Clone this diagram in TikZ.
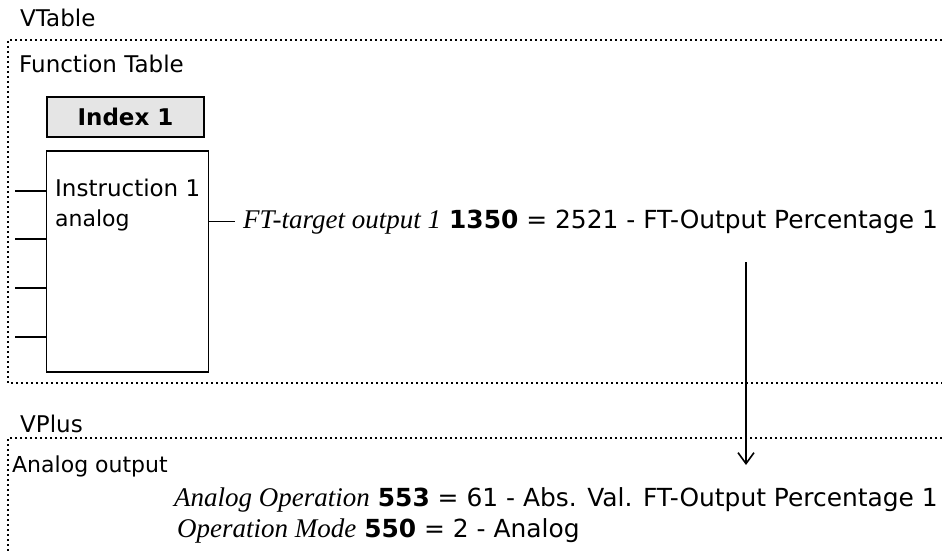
\documentclass[tikz,border=0pt]{standalone}
\usepackage{fontspec}
\setmainfont{DejaVu Sans}
\newfontfamily\itserif{Liberation Serif}
\usetikzlibrary{arrows.meta}

\tikzset{
  frame/.style={line width=2pt, dash pattern=on 2pt off 3pt},
  wire/.style={line width=1.6pt},
  txt/.style={anchor=base west, inner sep=0pt, font=\fontsize{23}{23}\selectfont},
  bigtxt/.style={txt, font=\fontsize{24.9}{24.9}\selectfont},
  smalltxt/.style={txt, font=\fontsize{22}{22}\selectfont},
  indexbox/.style={draw, line width=1.2pt, fill=gray!20, minimum width=157pt, minimum height=40pt,
    inner sep=0pt, font=\bfseries\fontsize{23}{23}\selectfont},
  instrbox/.style={draw, line width=1.6pt, minimum width=162pt, minimum height=221pt, inner sep=0pt}
}
\newcommand{\parname}[1]{{\itserif\itshape\fontsize{27}{27}\selectfont #1}}

\begin{document}
\begin{tikzpicture}[x=1pt,y=-1pt]
  \useasboundingbox (0,0) rectangle (942,551);

  % VTable frame
  \node[txt] (vtable) at (20,27) {VTable};
  \draw[frame] (942,40) -- (8,40) -- (8,383) -- (942,383);
  \node[txt] (ftable) at (19,72) {Function Table};

  % Function block
  \node[indexbox] (index) at (125.5,117) {Index 1};
  \node[instrbox] (instr) at (127.5,261.5) {};
  \node[txt] (instrname) at (55,196) {Instruction 1};
  \node[smalltxt] (instrtype) at (55,226) {analog};
  \foreach \y [count=\i] in {191,239,288,337}
    {\coordinate (in\i) at (15,\y);
     \draw[wire] (in\i) -- (in\i -| instr.west);}

  % Output of the block
  \node[bigtxt] (ftout) at (243,228) {\parname{FT-target output 1} \textbf{1350} = 2521 - FT-Output Percentage 1};
  \draw[wire, shorten >=8pt] (instr.east |- ftout.west) -- (ftout.west);

  % Link to VPlus
  \coordinate (arrtop) at (746,262);
  \coordinate (arrtip) at (746,465);
  \draw[wire, -{Straight Barb[length=11pt,width=16pt]}] (arrtop) -- (arrtip);

  % VPlus frame
  \node[txt] (vplus) at (20,432) {VPlus};
  \draw[frame] (942,438) -- (8,438) -- (8,551);
  \node[smalltxt] (aout) at (12,472) {Analog output};
  \node[bigtxt] (aop) at (174,506) {\parname{Analog Operation} \textbf{553} = 61 - Abs. Val. FT-Output Percentage 1};
  \node[bigtxt] (opmode) at (177,537) {\parname{Operation Mode} \textbf{550} = 2 - Analog};
\end{tikzpicture}
\end{document}
